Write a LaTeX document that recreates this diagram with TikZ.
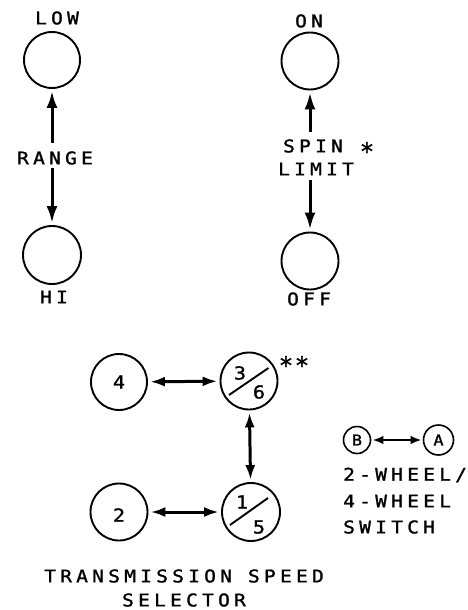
\documentclass[tikz,border=0pt]{standalone}
\usepackage{fontspec}
\newfontfamily\lett[FakeStretch=1.12,LetterSpace=24,FakeBold=1.3]{DejaVu Sans Mono}
\newfontfamily\starf[FakeBold=1.5]{DejaVu Sans Mono}
\usetikzlibrary{arrows.meta,calc}
\tikzset{
  knob/.style={draw,circle,line width=1.9pt,inner sep=0pt,minimum size=#1},
  lbl/.style={inner sep=0pt,font=\lett\fontsize{17.5}{20}\selectfont},
  digit/.style={inner sep=0pt,font=\lett\fontsize{18}{20}\selectfont},
  starlbl/.style={inner sep=0pt,font=\starf\fontsize{24}{26}\selectfont},
  arr/.style={line width=3pt,-{Latex[length=17pt,width=11pt]},shorten >=2pt},
  darr/.style={line width=3pt,{Latex[length=15pt,width=10pt]}-{Latex[length=15pt,width=10pt]},shorten >=2pt,shorten <=2pt},
  sarr/.style={line width=2.6pt,{Latex[length=11pt,width=8.5pt]}-{Latex[length=11pt,width=8.5pt]},shorten >=1pt,shorten <=1pt},
  slash/.style={line width=1.9pt}
}
\begin{document}
\begin{tikzpicture}[x=1pt,y=-1pt]
\useasboundingbox (0,0) rectangle (467,610);
% range
\node[lbl] (lowt) at (57,18) {LOW};
\node[knob=56pt] (low) at (52,60) {};
\node[lbl] (range) at (55,158) {RANGE};
\coordinate (rup) at (52,143);
\coordinate (rdn) at (52,168);
\node[knob=58pt] (hi) at (52,255) {};
\node[lbl] (hit) at (54,297) {HI};
\draw[arr] (rup) -- (low);
\draw[arr] (rdn) -- (hi);
% spin limit
\node[lbl] (ont) at (309,21) {ON};
\node[knob=57pt] (on) at (310,61) {};
\node[lbl] (spin) at (313,146) {SPIN};
\node[starlbl] (star) at (367,151) {*};
\node[lbl] (limit) at (316,169) {LIMIT};
\coordinate (sup1) at (310,132);
\coordinate (sdn1) at (310,180);
\node[knob=57pt] (off) at (310,261) {};
\node[lbl] (offt) at (309,299) {OFF};
\draw[arr] (sup1) -- (on);
\draw[arr] (sdn1) -- (off);
% transmission speed selector
\node[knob=56pt] (c4) at (119,382) {};
\node[digit] at (c4) {4};
\node[knob=57pt] (c36) at (249,381) {};
\node[digit] at ($(c36)+(-9,-8)$) {3};
\node[digit] at ($(c36)+(10,11)$) {6};
\draw[slash] ($(c36)+(-20,14)$) -- ($(c36)+(19.5,-13)$);
\node[starlbl] (dstar1) at (286,365) {*};
\node[starlbl] (dstar2) at (302,365) {*};
\node[knob=57pt] (c2) at (119,512) {};
\node[digit] at ($(c2)+(0,3)$) {2};
\node[knob=58pt] (c15) at (251,512) {};
\node[digit] at ($(c15)+(-9,-10)$) {1};
\node[digit] at ($(c15)+(8,15)$) {5};
\draw[slash] ($(c15)+(-21,13)$) -- ($(c15)+(17,-14)$);
\draw[darr] (c4) -- (c36);
\draw[darr] (c2) -- (c15);
\draw[darr] (c36) -- (c15);
\node[lbl] (tss) at (184,576) {TRANSMISSION SPEED};
\node[lbl] (sel) at (184,600) {SELECTOR};
% 2wd/4wd
\node[knob=27pt,line width=1.6pt] (cb) at (357,440) {};
\node[digit,font=\lett\fontsize{15}{17}\selectfont] at (cb) {B};
\node[knob=30pt,line width=1.6pt] (ca) at (438.5,440) {};
\node[digit,font=\lett\fontsize{15}{17}\selectfont] at (ca) {A};
\draw[sarr] (cb) -- (ca);
\node[lbl,anchor=west] (w2) at (343,475) {2-WHEEL/};
\node[lbl,anchor=west] (w4) at (343,501) {4-WHEEL};
\node[lbl,anchor=west] (sw) at (343,527) {SWITCH};
\end{tikzpicture}
\end{document}
